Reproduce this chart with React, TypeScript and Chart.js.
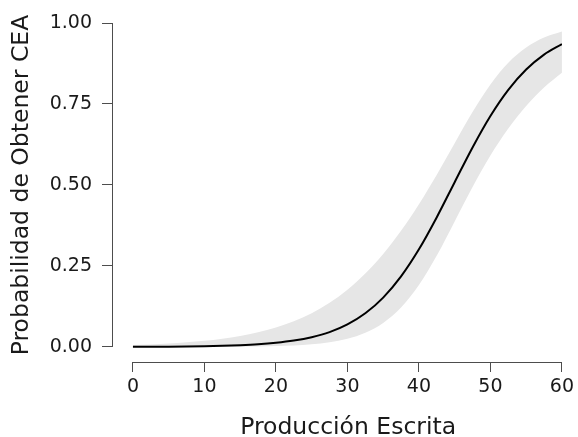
import React, { useEffect, useRef } from "react";
import { Chart, registerables } from "chart.js";

Chart.register(...registerables);

// Producción Escrita values
const xValues = [0, 2.5, 5, 7.5, 10, 12.5, 15, 17.5, 20, 22.5, 25, 27.5, 30, 32.5, 35, 37.5, 40, 42.5, 45, 47.5, 50, 52.5, 55, 57.5, 60];
// Fitted probability of obtaining CEA
const fitted = [0.0004, 0.0006, 0.0009, 0.0015, 0.0023, 0.0035, 0.0054, 0.0083, 0.0129, 0.0198, 0.0303, 0.046, 0.0698, 0.104, 0.1525, 0.218, 0.3015, 0.4007, 0.5087, 0.616, 0.713, 0.7937, 0.8563, 0.9023, 0.9347];
// Confidence band
const lower = [0.00003, 0.00005, 0.00008, 0.00015, 0.00026, 0.00047, 0.00084, 0.0015, 0.0027, 0.0047, 0.0083, 0.0146, 0.0255, 0.044, 0.0744, 0.122, 0.1912, 0.2822, 0.3874, 0.4936, 0.5909, 0.6744, 0.7442, 0.8011, 0.8467];
const upper = [0.0059, 0.008, 0.0107, 0.0143, 0.0191, 0.0256, 0.0341, 0.0452, 0.06, 0.0794, 0.1045, 0.1365, 0.1768, 0.2268, 0.2872, 0.3586, 0.4408, 0.532, 0.629, 0.7252, 0.8104, 0.8772, 0.9243, 0.9549, 0.9737];

const xTicks = [0, 10, 20, 30, 40, 50, 60];
const yTicks = [0, 0.25, 0.5, 0.75, 1];

const xTitle = "Producción Escrita";
const yTitle = "Probabilidad de Obtener CEA";

const FONT = "'DejaVu Sans', sans-serif";
const AXIS_COLOR = "#4d4d4d";
const TEXT_COLOR = "#1a1a1a";

const axisLinesPlugin = {
  id: "axisLines",
  afterDraw(chart: any) {
    const { ctx, chartArea, scales } = chart;
    const xs = scales.x;
    const ys = scales.y;
    ctx.save();
    ctx.strokeStyle = AXIS_COLOR;
    ctx.lineWidth = 1;
    ctx.beginPath();
    const yb = Math.round(chartArea.bottom) + 0.5;
    ctx.moveTo(xs.getPixelForValue(xTicks[0]), yb);
    ctx.lineTo(xs.getPixelForValue(xTicks[xTicks.length - 1]), yb);
    const xl = Math.round(chartArea.left) + 0.5;
    ctx.moveTo(xl, ys.getPixelForValue(yTicks[0]));
    ctx.lineTo(xl, ys.getPixelForValue(yTicks[yTicks.length - 1]));
    ctx.stroke();
    ctx.restore();
  },
};

export default function App() {
  const ref = useRef<HTMLCanvasElement | null>(null);

  useEffect(() => {
    if (!ref.current) return;
    const toPts = (ys: number[]) => xValues.map((x, i) => ({ x, y: ys[i] }));
    const chart = new Chart(ref.current, {
      type: "line",
      data: {
        datasets: [
          {
            data: toPts(fitted),
            borderColor: "#000000",
            borderWidth: 2,
            pointRadius: 0,
            fill: false,
            cubicInterpolationMode: "monotone",
          },
          {
            data: toPts(lower),
            borderWidth: 0,
            borderColor: "rgba(0,0,0,0)",
            pointRadius: 0,
            fill: false,
            cubicInterpolationMode: "monotone",
          },
          {
            data: toPts(upper),
            borderWidth: 0,
            borderColor: "rgba(0,0,0,0)",
            backgroundColor: "#e6e6e6",
            pointRadius: 0,
            fill: "-1",
            cubicInterpolationMode: "monotone",
          },
        ],
      },
      options: {
        responsive: false,
        animation: false,
        layout: { padding: { top: 23, right: 15, left: 0, bottom: 0 } },
        plugins: { legend: { display: false }, tooltip: { enabled: false } },
        scales: {
          x: {
            type: "linear",
            min: -2.93,
            max: 60,
            afterBuildTicks: (s: any) => {
              s.ticks = xTicks.map((v) => ({ value: v }));
            },
            afterFit: (s: any) => {
              s.height = 75;
            },
            border: { display: false },
            grid: { drawOnChartArea: false, drawTicks: true, tickLength: 10, color: AXIS_COLOR, lineWidth: 1 },
            ticks: {
              padding: 4,
              color: TEXT_COLOR,
              font: { family: FONT, size: 19 },
              maxRotation: 0,
              callback: (v: any) => String(v),
            },
            title: {
              display: true,
              text: "\u00A0\u00A0\u00A0" + xTitle,
              color: TEXT_COLOR,
              font: { family: FONT, size: 23.5 },
              padding: { top: 0, bottom: -5 },
            },
          },
          y: {
            type: "linear",
            min: -0.0463,
            max: 1,
            afterBuildTicks: (s: any) => {
              s.ticks = yTicks.map((v) => ({ value: v }));
            },
            afterFit: (s: any) => {
              s.width = 112;
            },
            border: { display: false },
            grid: { drawOnChartArea: false, drawTicks: true, tickLength: 10, color: AXIS_COLOR, lineWidth: 1 },
            ticks: {
              padding: 10,
              color: TEXT_COLOR,
              font: { family: FONT, size: 19 },
              callback: (v: any) => Number(v).toFixed(2),
            },
            title: {
              display: true,
              text: "\u00A0\u00A0" + yTitle,
              color: TEXT_COLOR,
              font: { family: FONT, size: 23.5 },
              padding: { top: 8, bottom: 0 },
            },
          },
        },
      },
      plugins: [axisLinesPlugin],
    });
    return () => chart.destroy();
  }, []);

  return (
    <div style={{ position: "absolute", left: 0, top: 0, width: 578, height: 437 }}>
      <canvas ref={ref} width={578} height={437} style={{ display: "block" }} />
    </div>
  );
}
